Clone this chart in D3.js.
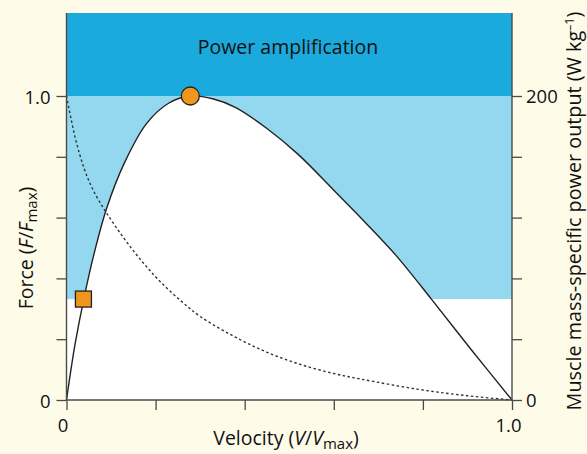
<!DOCTYPE html>
<html><head><meta charset="utf-8">
<script src="https://cdn.jsdelivr.net/npm/d3@7"></script>
<style>
body{margin:0;background:#fffbe9;}
svg{display:block;font-family:"Open Sans",sans-serif;}
</style></head>
<body><svg id="c" width="587" height="454"></svg>
<script>
// Power output curve (normalised)
const powerV = [0,0.01,0.02,0.04,0.06,0.09,0.13,0.18,0.23,0.278,0.33,0.38,0.45,0.52,0.60,0.67,0.74,0.82,0.91,1.0];
const powerP = [0,0.10,0.19,0.34,0.47,0.63,0.78,0.91,0.977,1.0,0.99,0.962,0.893,0.808,0.69,0.585,0.475,0.33,0.163,0];
// Force-velocity curve (dotted)
const forceV = [0,0.02,0.04,0.06,0.09,0.13,0.17,0.21,0.26,0.30,0.375,0.45,0.525,0.60,0.66,0.79,0.90,1.0];
const forceF = [1.0,0.86,0.76,0.69,0.615,0.53,0.455,0.39,0.322,0.275,0.21,0.157,0.117,0.087,0.069,0.035,0.014,0];
const yTicks = [0,0.2,0.4,0.6,0.8,1.0];
const xTicks = [0,0.2,0.4,0.6,0.8,1.0];
const powerTicks = [0,40,80,120,160,200];
const ampLevel = 1.0;      // power amplification threshold
const lowLevel = 0.332;    // lower edge of light band
const circlePt = {v:0.278, p:1.0};
const squarePt = {v:0.038, p:0.332};

const svg = d3.select("#c");
const L=66.5, R=512, T=13, B=400;
const x = d3.scaleLinear().domain([0,1]).range([L,R]);
const y = d3.scaleLinear().domain([0,1]).range([B,96]);
const yP = d3.scaleLinear().domain([0,200]).range([B,96]);

const darkBlue="#1aaadd", lightBlue="#94d8ef", axisCol="#4a4a4a";

svg.append("rect").attr("x",L).attr("y",T).attr("width",R-L).attr("height",B-T).attr("fill","#fff");
svg.append("rect").attr("x",L).attr("y",y(ampLevel)).attr("width",R-L).attr("height",y(lowLevel)-y(ampLevel)).attr("fill",lightBlue);
svg.append("rect").attr("x",L).attr("y",T).attr("width",R-L).attr("height",y(ampLevel)-T).attr("fill",darkBlue);

const pData = powerV.map((v,i)=>[v,powerP[i]]);
const fData = forceV.map((v,i)=>[v,forceF[i]]);
const curve = d3.curveCatmullRom.alpha(0.5);
svg.append("path").datum(pData)
  .attr("d", d3.area().x(d=>x(d[0])).y0(B).y1(d=>y(d[1])).curve(curve))
  .attr("fill","#fff");
svg.append("path").datum(pData)
  .attr("d", d3.line().x(d=>x(d[0])).y(d=>y(d[1])).curve(curve))
  .attr("fill","none").attr("stroke","#222").attr("stroke-width",1.4);
svg.append("path").datum(fData)
  .attr("d", d3.line().x(d=>x(d[0])).y(d=>y(d[1])).curve(curve))
  .attr("fill","none").attr("stroke","#333").attr("stroke-width",1.4).attr("stroke-dasharray","2.5,2.5");

// axes
const gL = svg.append("g").attr("transform",`translate(${L},0)`)
  .call(d3.axisLeft(y).tickValues(yTicks).tickSize(10).tickFormat(d=>d===0?"0":d===1?"1.0":""));
const gR = svg.append("g").attr("transform",`translate(${R},0)`)
  .call(d3.axisRight(yP).tickValues(powerTicks).tickSize(10).tickFormat(d=>d===0||d===200?String(d):""));
const gB = svg.append("g").attr("transform",`translate(0,${B})`)
  .call(d3.axisBottom(x).tickValues(xTicks).tickSize(10).tickFormat(d=>d===0?"0":d===1?"1.0":""));
[gL,gR,gB].forEach(g=>{
  g.select(".domain").remove();
  g.selectAll(".tick line").attr("stroke",axisCol).attr("stroke-width",1.3);
  g.selectAll(".tick text").attr("fill","#111").style("font-size","18.5px").style("font-family","Open Sans, sans-serif");
});
gL.selectAll(".tick text").attr("x",-16).attr("dy","0.38em");
gR.selectAll(".tick text").attr("x",14).attr("dy","0.36em");
gB.selectAll(".tick text").attr("y",32).attr("dy",0).attr("dx",-4);
// axis lines
svg.append("line").attr("x1",L).attr("x2",L).attr("y1",T).attr("y2",B).attr("stroke",axisCol).attr("stroke-width",1.4);
svg.append("line").attr("x1",R).attr("x2",R).attr("y1",T).attr("y2",B).attr("stroke",axisCol).attr("stroke-width",1.4);
svg.append("line").attr("x1",L).attr("x2",R).attr("y1",B).attr("y2",B).attr("stroke",axisCol).attr("stroke-width",1.4);

// markers
svg.append("circle").attr("cx",x(circlePt.v)).attr("cy",y(circlePt.p)).attr("r",9)
  .attr("fill","#f0961f").attr("stroke","#222").attr("stroke-width",1.3);
svg.append("rect").attr("x",x(squarePt.v)-8).attr("y",y(squarePt.p)-8).attr("width",16).attr("height",16)
  .attr("fill","#f0961f").attr("stroke","#222").attr("stroke-width",1.3);

// text
svg.append("text").attr("x",288).attr("y",54).attr("text-anchor","middle")
  .style("font-size","19.5px").attr("fill","#111").text("Power amplification");

const xt = svg.append("text").attr("x",286).attr("y",445).attr("text-anchor","middle")
  .style("font-size","19.5px").attr("fill","#111");
xt.append("tspan").text("Velocity (");
xt.append("tspan").style("font-style","italic").text("V");
xt.append("tspan").text("/");
xt.append("tspan").style("font-style","italic").text("V");
xt.append("tspan").attr("dy",3.5).style("font-size","15px").text("max");
xt.append("tspan").attr("dy",-3.5).text(")");

const yt = svg.append("text").attr("transform","translate(33,248) rotate(-90)").attr("text-anchor","middle")
  .style("font-size","19.5px").attr("fill","#111");
yt.append("tspan").text("Force (");
yt.append("tspan").style("font-style","italic").text("F");
yt.append("tspan").text("/");
yt.append("tspan").style("font-style","italic").text("F");
yt.append("tspan").attr("dy",4).style("font-size","15px").text("max");
yt.append("tspan").attr("dy",-4).text(")");

const rt = svg.append("text").attr("transform","translate(581,211) rotate(-90)").attr("text-anchor","middle")
  .style("font-size","19.8px").attr("fill","#111");
rt.append("tspan").text("Muscle mass-specific power output (W kg");
rt.append("tspan").attr("dy",-7).style("font-size","12.5px").text("–1");
rt.append("tspan").attr("dy",7).text(")");
</script></body></html>
